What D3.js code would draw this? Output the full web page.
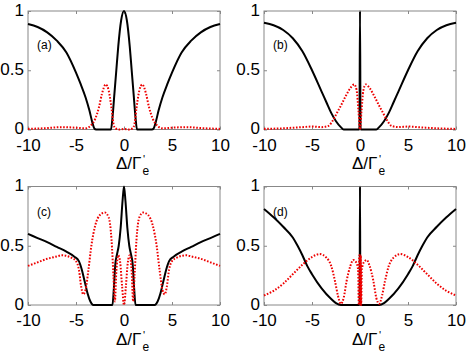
<!DOCTYPE html>
<html><head><meta charset="utf-8">
<script src="https://cdn.jsdelivr.net/npm/d3@7"></script>
<style>body{margin:0;background:#fff}svg{display:block}text{font-family:"Liberation Sans",Arial,sans-serif}</style>
</head><body><svg id="c" width="468" height="353"></svg>
<script>
const xTicks = [-10, -5, 0, 5, 10];
const yTicks = [0, 0.5, 1];
const yTickLabels = ["0", "0.5", "1"];
const panelLabels = ["(a)", "(b)", "(c)", "(d)"];

// black solid curves [Δ/Γ'e, value]
const blackA = [[-10,0.89],[-9,0.865],[-8,0.82],[-7,0.75],[-6,0.65],[-5,0.48],[-4.5,0.38],[-4,0.27],[-3.6,0.16],[-3.3,0.06],[-3.1,0.01],[-2.9,0],[-1.35,0],[-1.2,0.1],[-1,0.3],[-0.8,0.5],[-0.6,0.7],[-0.3,0.92],[0,1],
  [0.3,0.92],[0.6,0.7],[0.8,0.5],[1,0.3],[1.2,0.1],[1.35,0],[2.9,0],[3.1,0.01],[3.3,0.06],[3.6,0.16],[4,0.27],[4.5,0.38],[5,0.48],[6,0.65],[7,0.75],[8,0.82],[9,0.865],[10,0.89]];
const redA = [[-10,0.005],[-8,0.012],[-6.5,0.02],[-5,0.015],[-4,0.01],[-3.5,0.03],[-3,0.09],[-2.6,0.19],[-2.3,0.3],[-1.9,0.38],[-1.6,0.33],[-1.3,0.18],[-1.1,0.05],[-0.9,0.01],[-0.5,0],[0,0.005],
  [0.5,0],[0.9,0.01],[1.1,0.05],[1.3,0.18],[1.6,0.33],[1.9,0.38],[2.3,0.3],[2.6,0.19],[3,0.09],[3.5,0.03],[4,0.01],[5,0.015],[6.5,0.02],[8,0.012],[10,0.005]];

const blackB = [[-10,0.9],[-9,0.88],[-8,0.84],[-7,0.77],[-6,0.66],[-5,0.5],[-4,0.32],[-3.5,0.23],[-3,0.14],[-2.5,0.07],[-2,0.02],[-1.7,0],[-0.06,0],[0,1],
  [0.06,0],[1.7,0],[2,0.02],[2.5,0.07],[3,0.14],[3.5,0.23],[4,0.32],[5,0.5],[6,0.66],[7,0.77],[8,0.84],[9,0.88],[10,0.9]];
const redB = [[-10,0.005],[-8,0.01],[-6,0.02],[-5,0.025],[-4,0.02],[-3.3,0.03],[-2.8,0.08],[-2.4,0.14],[-2,0.2],[-1.5,0.28],[-1,0.35],[-0.6,0.38],[-0.35,0.33],[-0.15,0.15],[0,0],
  [0.15,0.15],[0.35,0.33],[0.6,0.38],[1,0.35],[1.5,0.28],[2,0.2],[2.4,0.14],[2.8,0.08],[3.3,0.03],[4,0.02],[5,0.025],[6,0.02],[8,0.01],[10,0.005]];

const blackC = [[-10,0.6],[-9,0.565],[-8,0.53],[-7,0.49],[-6,0.45],[-5.2,0.41],[-4.7,0.37],[-4.4,0.3],[-4.1,0.2],[-3.8,0.1],[-3.5,0.03],[-3.2,0],[-1.2,0],[-1.05,0.15],[-0.9,0.35],[-0.75,0.42],[-0.55,0.5],[-0.35,0.65],[-0.15,0.88],[0,1],
  [0.15,0.88],[0.35,0.65],[0.55,0.5],[0.75,0.42],[0.9,0.35],[1.05,0.15],[1.2,0],[3.2,0],[3.5,0.03],[3.8,0.1],[4.1,0.2],[4.4,0.3],[4.7,0.37],[5.2,0.41],[6,0.45],[7,0.49],[8,0.53],[9,0.565],[10,0.6]];
const redC = [[-10,0.33],[-9,0.36],[-8,0.39],[-7,0.41],[-6.5,0.42],[-6,0.415],[-5.5,0.4],[-5,0.37],[-4.7,0.3],[-4.45,0.15],[-4.25,0.09],[-4.0,0.13],[-3.7,0.3],[-3.4,0.5],[-3,0.67],[-2.5,0.76],[-2,0.78],[-1.6,0.74],[-1.3,0.55],[-1.1,0.25],[-0.95,0.03],[-0.8,0.28],[-0.6,0.42],[-0.4,0.36],[-0.2,0.16],[0,0],
  [0.2,0.16],[0.4,0.36],[0.6,0.42],[0.8,0.28],[0.95,0.03],[1.1,0.25],[1.3,0.55],[1.6,0.74],[2,0.78],[2.5,0.76],[3,0.67],[3.4,0.5],[3.7,0.3],[4.0,0.13],[4.25,0.09],[4.45,0.15],[4.7,0.3],[5,0.37],[5.5,0.4],[6,0.415],[6.5,0.42],[7,0.41],[8,0.39],[9,0.36],[10,0.33]];

const blackD = [[-10,0.81],[-9,0.74],[-8,0.66],[-7,0.57],[-6.5,0.5],[-6,0.42],[-5.5,0.33],[-5,0.26],[-4,0.14],[-3,0.05],[-2.5,0.015],[-2,0],[-0.04,0],[0,1],
  [0.04,0],[2,0],[2.5,0.015],[3,0.05],[4,0.14],[5,0.26],[5.5,0.33],[6,0.42],[6.5,0.5],[7,0.57],[8,0.66],[9,0.74],[10,0.81]];
const redD = [[-10,0.08],[-9,0.12],[-8,0.18],[-7,0.26],[-6,0.34],[-5,0.405],[-4.2,0.43],[-3.5,0.4],[-3,0.33],[-2.6,0.2],[-2.3,0.08],[-2,0.01],[-1.7,0.06],[-1.4,0.2],[-1,0.33],[-0.7,0.38],[-0.4,0.36],[-0.2,0.3],[-0.12,0],[-0.08,0.42],[-0.04,0],[0,0.42],
  [0.04,0],[0.08,0.42],[0.12,0],[0.2,0.3],[0.4,0.36],[0.7,0.38],[1,0.33],[1.4,0.2],[1.7,0.06],[2,0.01],[2.3,0.08],[2.6,0.2],[3,0.33],[3.5,0.4],[4.2,0.43],[5,0.405],[6,0.34],[7,0.26],[8,0.18],[9,0.12],[10,0.08]];

const blackSeries = [blackA, blackB, blackC, blackD];
const redSeries = [redA, redB, redC, redD];

const svg = d3.select("#c");
const panelBoxes = [
  {x0: 28, x1: 220, y0: 11, y1: 129.5},
  {x0: 264, x1: 456, y0: 11, y1: 129.5},
  {x0: 28, x1: 220, y0: 186.5, y1: 305},
  {x0: 264, x1: 456, y0: 186.5, y1: 305}
];

panelBoxes.forEach((b, i) => {
  const x = d3.scaleLinear().domain([-10, 10]).range([b.x0, b.x1]);
  const y = d3.scaleLinear().domain([0, 1]).range([b.y1, b.y0]);
  const g = svg.append("g");

  g.append("rect").attr("x", b.x0).attr("y", b.y0).attr("width", b.x1 - b.x0).attr("height", b.y1 - b.y0)
    .attr("fill", "none").attr("stroke", "#888").attr("stroke-width", 1);

  const ax = g.append("g").attr("transform", `translate(0,${b.y1})`)
    .call(d3.axisBottom(x).tickValues(xTicks).tickSize(-3).tickPadding(9).tickFormat(d3.format("d")));
  const axt = g.append("g").attr("transform", `translate(0,${b.y0})`)
    .call(d3.axisTop(x).tickValues(xTicks).tickSize(-3).tickFormat(""));
  const ay = g.append("g").attr("transform", `translate(${b.x0},0)`)
    .call(d3.axisLeft(y).tickValues(yTicks).tickSize(-3).tickPadding(4).tickFormat((d, k) => yTickLabels[k]));
  const ayr = g.append("g").attr("transform", `translate(${b.x1},0)`)
    .call(d3.axisRight(y).tickValues(yTicks).tickSize(-3).tickFormat(""));
  [ax, axt, ay, ayr].forEach(a => {
    a.select(".domain").remove();
    a.selectAll("line").attr("stroke", "#888");
    a.selectAll("text").attr("fill", "#000").attr("font-size", 17).attr("font-family", "Liberation Sans, Arial, sans-serif");
  });
  ax.selectAll("text").text(d => d < 0 ? "-" + Math.abs(d) : String(d));
  ay.selectAll("text").attr("dy", "0.25em");

  const line = d3.line().x(d => x(d[0])).y(d => y(d[1])).curve(d3.curveMonotoneX);
  g.append("path").datum(blackSeries[i]).attr("d", line)
    .attr("fill", "none").attr("stroke", "#000").attr("stroke-width", 2).attr("stroke-linejoin", "round");
  g.append("path").datum(redSeries[i]).attr("d", line)
    .attr("fill", "none").attr("stroke", "#ee0000").attr("stroke-width", 2).attr("stroke-dasharray", "1.6,1.6");

  g.append("text").attr("x", b.x0 + 9).attr("y", b.y0 + (i < 2 ? 38 : 29)).attr("font-size", 12).text(panelLabels[i]);

  const lx = (b.x0 + b.x1) / 2 - 8;
  const ly = b.y1 + 39.5;
  const main = g.append("text").attr("x", lx).attr("y", ly).attr("font-size", 17).text("Δ/Γ");
  const w = main.node().getComputedTextLength();
  g.append("text").attr("x", lx + w + 1.5).attr("y", ly - 6).attr("font-size", 11).text("'");
  g.append("text").attr("x", lx + w + 1).attr("y", ly + 6).attr("font-size", 12).text("e");
});
</script></body></html>
